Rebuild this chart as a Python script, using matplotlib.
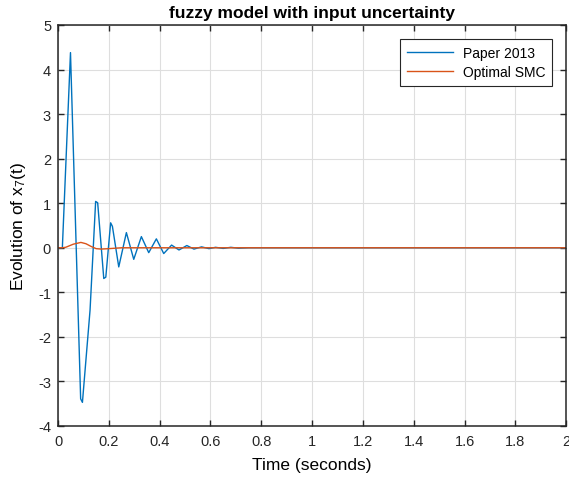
#!/usr/bin/env python3
"""Evolution of x_7(t): Paper 2013 vs Optimal SMC, fuzzy model with input uncertainty."""

import matplotlib

matplotlib.use("Agg")
import matplotlib.pyplot as plt
import numpy as np

plt.rcParams["font.family"] = ["Liberation Sans", "DejaVu Sans"]
plt.rcParams["mathtext.fontset"] = "custom"
plt.rcParams["mathtext.rm"] = "Liberation Sans"
plt.rcParams["mathtext.it"] = "Liberation Sans:italic"
plt.rcParams["axes.unicode_minus"] = False

# ---------------------------------------------------------------------------
# Values
# ---------------------------------------------------------------------------
paper_t = [0.0, 0.017, 0.049, 0.089, 0.096, 0.126, 0.148, 0.156, 0.180, 0.188,
           0.207, 0.214, 0.239, 0.269, 0.298, 0.328, 0.357, 0.387, 0.416, 0.447,
           0.476, 0.507, 0.535, 0.565, 0.594, 0.62, 0.65, 0.68, 0.71, 0.75, 2.0]
paper_x7 = [0.0, 0.0, 4.38, -3.39, -3.47, -1.40, 1.04, 1.01, -0.69, -0.66,
            0.56, 0.48, -0.43, 0.34, -0.26, 0.25, -0.11, 0.20, -0.13, 0.06,
            -0.05, 0.05, -0.03, 0.02, -0.02, 0.01, -0.015, 0.01, -0.01, 0.0, 0.0]

smc_t = [0.0, 0.015, 0.03, 0.06, 0.09, 0.11, 0.13, 0.15, 0.17, 0.20, 0.25, 2.0]
smc_x7 = [0.0, 0.0, 0.01, 0.08, 0.12, 0.09, 0.03, -0.02, -0.03, -0.02, 0.0, 0.0]

x_ticks = np.arange(0, 2.01, 0.2)
y_ticks = np.arange(-4, 6, 1)


def main() -> None:
    fig = plt.figure(figsize=(5.69, 4.81), dpi=100)
    ax = fig.add_axes([0.102, 0.1123, 0.893, 0.8337])

    ax.plot(paper_t, paper_x7, color="#0072BD", linewidth=1.0, label="Paper 2013")
    ax.plot(smc_t, smc_x7, color="#D95319", linewidth=1.0, label="Optimal SMC")

    ax.set_xlim(0, 2)
    ax.set_ylim(-4, 5)
    ax.set_xticks(x_ticks)
    ax.set_xticklabels([f"{v:g}" for v in x_ticks])
    ax.set_yticks(y_ticks)
    ax.tick_params(direction="in", length=4, width=1.0, labelsize=10.5,
                   colors="#262626", top=True, right=True)
    ax.tick_params(axis="x", pad=6)
    ax.tick_params(axis="y", pad=5)
    ax.grid(True, color="#dedede", linewidth=0.8)
    for s in ax.spines.values():
        s.set_color("#262626")
        s.set_linewidth(1.1)

    ax.set_title("fuzzy model with input uncertainty", fontsize=12.5,
                 fontweight="bold", pad=6)
    ax.set_xlabel("Time (seconds)", fontsize=12.5, labelpad=6)
    ax.set_ylabel(r"Evolution of x$_\mathregular{7}$(t)", fontsize=12.5, labelpad=7)

    leg = ax.legend(loc="upper right", fontsize=10, fancybox=False,
                    framealpha=1, edgecolor="#262626", handlelength=3.3,
                    borderaxespad=1.0, borderpad=0.5, labelspacing=0.35,
                    handletextpad=0.7)
    leg.get_frame().set_linewidth(0.8)

    fig.savefig("out.png", dpi=100)


if __name__ == "__main__":
    main()
